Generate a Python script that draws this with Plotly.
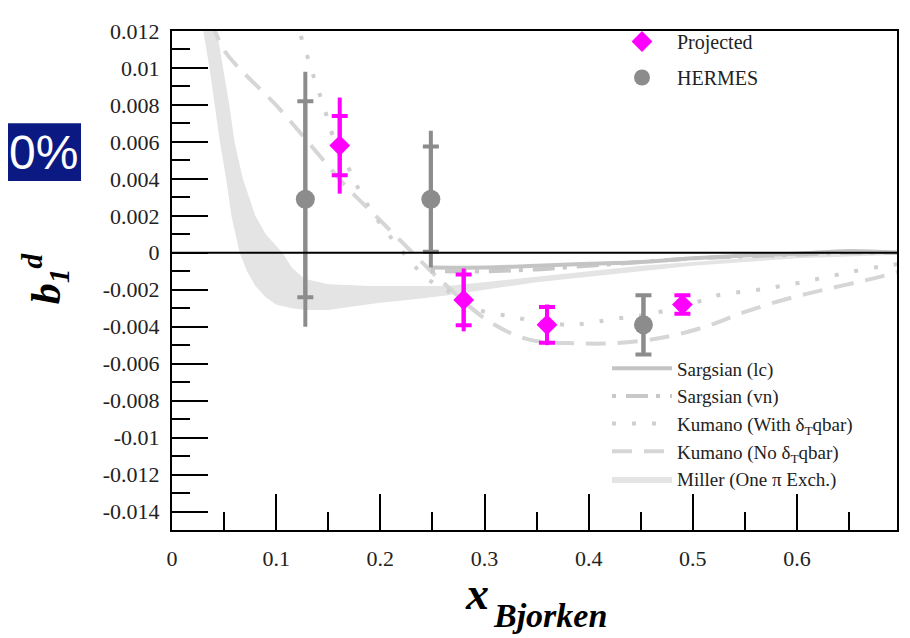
import plotly.graph_objects as go

# ---------------- data ----------------
x_tick_vals = [0, 0.1, 0.2, 0.3, 0.4, 0.5, 0.6]
x_tick_text = ["0", "0.1", "0.2", "0.3", "0.4", "0.5", "0.6"]
y_tick_vals = [-0.014, -0.012, -0.01, -0.008, -0.006, -0.004, -0.002, 0,
               0.002, 0.004, 0.006, 0.008, 0.01, 0.012]
y_tick_text = ["-0.014", "-0.012", "-0.01", "-0.008", "-0.006", "-0.004", "-0.002", "0",
               "0.002", "0.004", "0.006", "0.008", "0.01", "0.012"]

proj_x = [0.161, 0.280, 0.360, 0.490]
proj_y = [0.0058, -0.00255, -0.0039, -0.0028]
proj_stat = [0.0016, 0.00137, 0.00097, 0.0005]
proj_tot = [0.0026, 0.0017, 0.0011, 0.0005]

herm_x = [0.128, 0.2485, 0.4526]
herm_y = [0.0029, 0.0029, -0.0039]
herm_stat = [0.0053, 0.00285, 0.0016]
herm_tot = [0.0069, 0.0037, 0.0016]

sarg_lc_x = [0.2485, 0.30, 0.35, 0.40, 0.45, 0.50, 0.55, 0.60, 0.65, 0.70]
sarg_lc_y = [-0.0008, -0.0008, -0.0007, -0.0006, -0.0005, -0.0003, -0.00015, -0.00005, 0.0001, 0.0]

sarg_vn_x = [0.2485, 0.30, 0.35, 0.40, 0.45, 0.50, 0.55, 0.60, 0.65, 0.70]
sarg_vn_y = [-0.001, -0.001, -0.0009, -0.0007, -0.0005, -0.0003, -0.0002, -0.0001, 0.0, 0.0]

kum_with_x = [0.121, 0.123, 0.129, 0.135, 0.1416, 0.148, 0.154, 0.172, 0.1815, 0.202, 0.2165,
              0.231, 0.245, 0.263, 0.295, 0.320, 0.339, 0.381, 0.400, 0.422, 0.460, 0.502,
              0.524, 0.563, 0.604, 0.646, 0.685, 0.70]
kum_with_y = [0.0128, 0.0119, 0.0108, 0.0097, 0.0086, 0.0075, 0.0064, 0.0043, 0.0032, 0.0014, 0.0004,
              -0.0006, -0.0014, -0.0020, -0.0031, -0.0034, -0.0036, -0.0039, -0.0038, -0.0036, -0.0033, -0.0027,
              -0.0023, -0.0020, -0.0016, -0.0011, -0.0007, -0.0006]

kum_no_x = [0.038, 0.042, 0.052, 0.103, 0.135, 0.167, 0.199, 0.231, 0.256, 0.263, 0.304, 0.343,
            0.390, 0.422, 0.470, 0.512, 0.550, 0.590, 0.626, 0.665, 0.70]
kum_no_y = [0.0125, 0.0119, 0.0108, 0.0078, 0.0057, 0.0036, 0.0018, 0.0, -0.0014, -0.00175, -0.0037, -0.0047,
            -0.0049, -0.0049, -0.0046, -0.0040, -0.0032, -0.0025, -0.0020, -0.0015, -0.0010]

miller_lo_x = [0.028, 0.030, 0.036, 0.041, 0.046, 0.052, 0.057, 0.065, 0.072, 0.080, 0.090, 0.100,
               0.115, 0.130, 0.150, 0.175, 0.200, 0.235, 0.265, 0.300, 0.350, 0.400, 0.450, 0.500,
               0.550, 0.600, 0.650, 0.700]
miller_lo_y = [0.013, 0.012, 0.010, 0.008, 0.006, 0.004, 0.002, 0.0, -0.001, -0.0018, -0.0024, -0.0028,
               -0.0030, -0.0031, -0.0031, -0.0029, -0.0027, -0.0025, -0.0023, -0.0020, -0.0016, -0.0013, -0.0010, -0.0007,
               -0.0005, -0.0003, -0.0002, -0.0001]
miller_hi_x = [0.041, 0.043, 0.049, 0.055, 0.060, 0.068, 0.080, 0.090, 0.106, 0.115, 0.127, 0.150,
               0.190, 0.230, 0.265, 0.300, 0.350, 0.400, 0.450, 0.500, 0.550, 0.600, 0.650, 0.700]
miller_hi_y = [0.013, 0.012, 0.010, 0.008, 0.006, 0.004, 0.002, 0.001, 0.0, -0.0008, -0.0014, -0.0017,
               -0.0018, -0.0018, -0.0018, -0.0016, -0.0013, -0.0010, -0.0007, -0.0005, -0.0003, -0.0001, 0.0, 0.0001]

# ---------------- figure ----------------
SERIF = "Liberation Serif, Times New Roman, serif"
fig = go.Figure()

band_x = miller_lo_x + miller_hi_x[::-1]
band_y = miller_lo_y + miller_hi_y[::-1]
fig.add_trace(go.Scatter(x=band_x, y=band_y, mode="lines", fill="toself",
                         fillcolor="#e4e4e4", line=dict(width=0, color="#e4e4e4"),
                         name="Miller (One π Exch.)", legend="legend2", legendrank=5))

fig.add_trace(go.Scatter(x=kum_no_x, y=kum_no_y, mode="lines", line_shape="spline",
                         line=dict(color="#d6d6d6", width=4, dash="20px,12px"),
                         name="Kumano (No δ<sub>T</sub>qbar)", legend="legend2", legendrank=4))
fig.add_trace(go.Scatter(x=kum_with_x, y=kum_with_y, mode="lines", line_shape="spline",
                         line=dict(color="#cfcfcf", width=4, dash="4px,16px"),
                         name="Kumano (With δ<sub>T</sub>qbar)", legend="legend2", legendrank=3))
fig.add_trace(go.Scatter(x=sarg_vn_x, y=sarg_vn_y, mode="lines", line_shape="spline",
                         line=dict(color="#c8c8c8", width=4, dash="4px,10px,22px,8px"),
                         name="Sargsian (vn)", legend="legend2", legendrank=2))
fig.add_trace(go.Scatter(x=sarg_lc_x, y=sarg_lc_y, mode="lines", line_shape="spline",
                         line=dict(color="#c4c4c4", width=4),
                         name="Sargsian (lc)", legend="legend2", legendrank=1))

GRAY = "#8c8c8c"
MAG = "#ff00ff"
fig.add_trace(go.Scatter(x=herm_x, y=herm_y, mode="markers",
                         marker=dict(size=2, color=GRAY),
                         error_y=dict(type="data", array=herm_stat, color=GRAY, thickness=4, width=8),
                         showlegend=False, hoverinfo="skip"))
fig.add_trace(go.Scatter(x=herm_x, y=herm_y, mode="markers",
                         marker=dict(size=19, color=GRAY, symbol="circle"),
                         error_y=dict(type="data", array=herm_tot, color=GRAY, thickness=4, width=0),
                         name="HERMES", legend="legend", legendrank=2, legendgroup="h"))
fig.add_trace(go.Scatter(x=proj_x, y=proj_y, mode="markers",
                         marker=dict(size=2, color=MAG),
                         error_y=dict(type="data", array=proj_stat, color=MAG, thickness=4, width=8),
                         showlegend=False, hoverinfo="skip"))
fig.add_trace(go.Scatter(x=proj_x, y=proj_y, mode="markers",
                         marker=dict(size=16, color=MAG, symbol="diamond"),
                         error_y=dict(type="data", array=proj_tot, color=MAG, thickness=4, width=0),
                         name="Projected", legend="legend", legendrank=1, legendgroup="p"))

axis_common = dict(showgrid=False, zeroline=False, showline=True, linecolor="black",
                   linewidth=2, mirror=True, ticks="inside", ticklen=36, tickwidth=2,
                   tickcolor="black", tickfont=dict(family=SERIF, size=22, color="#222"))

fig.update_xaxes(range=[0, 0.696], tickmode="array", tickvals=x_tick_vals, ticktext=x_tick_text,
                 ticklabelstandoff=8,
                 minor=dict(ticks="inside", ticklen=18, tickwidth=2, tickcolor="black",
                            dtick=0.05, tick0=0),
                 **axis_common)
fig.update_yaxes(range=[-0.015, 0.012], tickmode="array", tickvals=y_tick_vals, ticktext=y_tick_text,
                 ticklabelstandoff=6,
                 minor=dict(ticks="inside", ticklen=18, tickwidth=2, tickcolor="black",
                            dtick=0.001, tick0=0),
                 **axis_common)

fig.add_shape(type="line", xref="paper", x0=0, x1=1, yref="y", y0=0, y1=0,
              line=dict(color="black", width=2), layer="above")

# navy box fragment on the left
fig.add_shape(type="rect", xref="paper", yref="paper", x0=-0.26, x1=-0.1255,
              y0=0.6994, y1=0.8153, fillcolor="#0b1a82", line=dict(width=0), layer="above")
fig.add_annotation(xref="paper", yref="paper", x=-0.1269, y=0.757, xanchor="right",
                   yanchor="middle", showarrow=False, text="0%",
                   font=dict(family="Liberation Sans, Arial, sans-serif", size=48, color="white"))

# axis titles
fig.add_annotation(xref="paper", yref="paper", x=-0.175, y=0.505, showarrow=False,
                   textangle=-90, xanchor="center", yanchor="middle",
                   text="<b><i>b</i></b><sub><b><i>1</i></b></sub><sup><b><i>d</i></b></sup>",
                   font=dict(family=SERIF, size=42, color="black"))
fig.add_annotation(xref="paper", yref="paper", x=0.42, y=-0.128, showarrow=False,
                   xanchor="center", yanchor="middle", text="<b><i>x</i></b>",
                   font=dict(family=SERIF, size=46, color="black"))
fig.add_annotation(xref="paper", yref="paper", x=0.521, y=-0.172, showarrow=False,
                   xanchor="center", yanchor="middle", text="<b><i>Bjorken</i></b>",
                   font=dict(family=SERIF, size=34, color="black"))

# page body has an 8px margin: shrink the figure and margins so the plot area lands in place
fig.update_layout(
    width=902, height=630,
    margin=dict(l=164, r=11, t=13, b=108),
    plot_bgcolor="white", paper_bgcolor="white",
    showlegend=True,
    legend=dict(x=0.6, y=1.018, xanchor="left", yanchor="top", bgcolor="rgba(0,0,0,0)",
                font=dict(family=SERIF, size=20, color="#222"), itemwidth=60,
                tracegroupgap=7, traceorder="grouped"),
    legend2=dict(x=0.6, y=0.362, xanchor="left", yanchor="top", bgcolor="rgba(0,0,0,0)",
                 font=dict(family=SERIF, size=19, color="#222"), itemwidth=60,
                 tracegroupgap=0),
)

fig.write_html("out.html")
